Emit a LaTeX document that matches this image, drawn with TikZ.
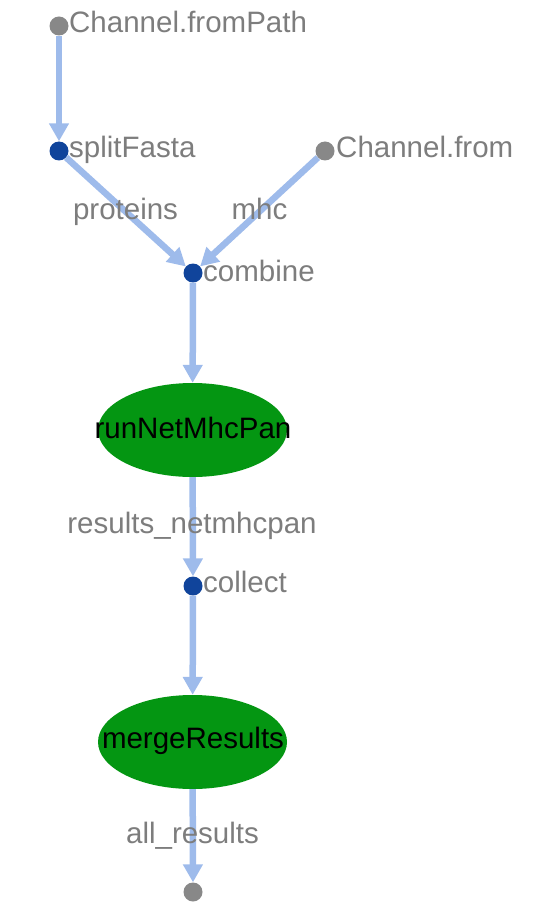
\documentclass[tikz,border=0pt]{standalone}
\usepackage{fontspec}
\setmainfont{Liberation Sans}
\usetikzlibrary{arrows.meta,shapes.geometric}
\definecolor{edgeblue}{RGB}{158,187,235}
\definecolor{dotblue}{RGB}{16,68,155}
\definecolor{dotgray}{RGB}{136,136,136}
\definecolor{txtgray}{RGB}{125,125,125}
\definecolor{procgreen}{RGB}{4,150,18}
\tikzset{
  dotop/.style={circle,fill=dotblue,draw=none,minimum size=19pt,inner sep=0pt},
  dotchan/.style={circle,fill=dotgray,draw=none,minimum size=19pt,inner sep=0pt},
  proc/.style={ellipse,fill=procgreen,draw=none,minimum width=189pt,minimum height=94pt,inner sep=0pt},
  lbl/.style={text=txtgray,inner sep=0pt,font=\fontsize{29.5}{32}\selectfont},
  ptext/.style={text=black,inner sep=0pt,font=\fontsize{29.5}{32}\selectfont},
  flow/.style={draw=edgeblue,line width=6.5pt,-{Triangle[width=19pt,length=18pt]}},
}
\begin{document}
\begin{tikzpicture}[x=1pt,y=-1pt]
\useasboundingbox (0,0) rectangle (541,917);
% nodes
\node[dotchan] (fromPath) at (59,26) {};
\node[dotop] (split) at (59,151) {};
\node[dotchan] (chfrom) at (325,151) {};
\node[dotop] (combine) at (193,273) {};
\node[proc] (run) at (192.5,430) {};
\node[dotop] (collect) at (193,586) {};
\node[proc] (merge) at (192.5,742) {};
\node[dotchan] (out) at (193,892) {};
% labels
\node[lbl,anchor=base west] (tFromPath) at (69,33) {Channel.fromPath};
\node[lbl,anchor=base west] (tSplit) at (69,158) {splitFasta};
\node[lbl,anchor=base west] (tChFrom) at (336,158) {Channel.from};
\node[lbl,anchor=base west] (tCombine) at (203,281) {combine};
\node[lbl,anchor=base west] (tCollect) at (203,592) {collect};
\node[ptext,anchor=base] (tRun) at (193,438) {runNetMhcPan};
\node[ptext,anchor=base] (tMerge) at (193,748) {mergeResults};
% edges
\draw[flow] (fromPath) -- (split);
\draw[flow] (split) -- (combine);
\draw[flow] (chfrom) -- (combine);
\draw[flow] (combine) -- (run);
\draw[flow] (run) -- (collect);
\draw[flow] (collect) -- (merge);
\draw[flow] (merge) -- (out);
% edge labels
\node[lbl,anchor=base] (eProt) at (125.5,219) {proteins};
\node[lbl,anchor=base] (eMhc) at (259.5,219) {mhc};
\node[lbl,anchor=base] (eRes) at (192,533) {results\_netmhcpan};
\node[lbl,anchor=base] (eAll) at (192.5,843) {all\_results};
\end{tikzpicture}
\end{document}
